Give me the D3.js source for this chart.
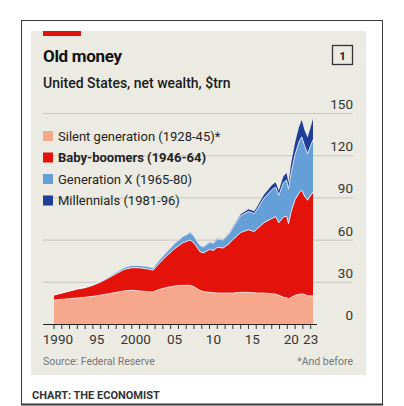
<!DOCTYPE html>
<html>
<head>
<meta charset="utf-8">
<script src="https://cdn.jsdelivr.net/npm/d3@7"></script>
<style>
  html, body { margin: 0; padding: 0; background: #fff; }
  svg { display: block; font-family: Roboto, "Noto Sans", sans-serif; }
</style>
</head>
<body>
<div id="chart"></div>
<script>
// Net wealth by generation, $trn
const years = [1990, 1991, 1992, 1993, 1994, 1995, 1996, 1997, 1998, 1999,
  2000, 2001, 2002, 2002.75, 2003.5, 2004.5, 2005.5, 2006.5, 2007.5, 2008,
  2008.75, 2009.2, 2010, 2010.5, 2011, 2011.75, 2012.5, 2013, 2014, 2015,
  2015.75, 2016, 2017, 2018, 2018.5, 2018.9, 2019.5, 2019.9, 2020.15, 2020.5,
  2021, 2021.5, 2021.85, 2022.2, 2022.6, 2022.9, 2023.3];
const silent = [17, 17.5, 18, 18.5, 19, 19.7, 20.5, 21.5, 22.5, 23.5,
  24, 23.5, 23, 22.8, 24.5, 26, 27, 27.5, 27.5, 26.5,
  24, 23, 22.5, 22.3, 22, 22, 22, 22, 22.5, 22.5,
  22.2, 22, 22, 21.5, 21.3, 20.5, 19, 18.8, 17.8, 19,
  20.5, 21, 21.5, 21, 20, 20, 20];
const boomers = [3.6, 4.5, 5.4, 6.3, 6.8, 7.8, 9.3, 11.2, 13.3, 15.3,
  16, 16.4, 16.2, 15.5, 18.5, 22.5, 26.5, 30, 32.2, 31,
  27.5, 27.5, 30.5, 30, 32.5, 32, 35, 38, 42.5, 44.5,
  43.5, 45, 50, 53.5, 55, 51.5, 57, 58, 53.5, 61,
  68, 72, 73.5, 70, 68, 70.5, 74];
const genX = [0, 0.1, 0.2, 0.3, 0.4, 0.5, 0.7, 0.9, 1.1, 1.4,
  1.7, 1.7, 1.8, 1.6, 2.2, 2.8, 3.6, 4.4, 5.2, 5,
  4.4, 4.2, 5, 5, 5.8, 5.8, 7, 8.5, 12, 13,
  12.8, 13.5, 17.5, 20.5, 21, 19.5, 24.5, 25.5, 24.5, 28,
  32, 36.5, 38, 36, 33, 35, 37];
const millennials = [0, 0, 0, 0, 0, 0, 0, 0, 0, 0,
  0, 0, 0, 0, 0.1, 0.1, 0.2, 0.2, 0.3, 0.3,
  0.2, 0.2, 0.3, 0.3, 0.4, 0.4, 0.5, 0.7, 1.1, 1.5,
  1.6, 1.8, 2.4, 3.1, 3.4, 3.3, 4.5, 5, 4.7, 6.5,
  8.5, 10.5, 12, 11, 11.5, 12.5, 15];

const seriesNames = ["Silent generation (1928-45)*", "Baby-boomers (1946-64)",
  "Generation X (1965-80)", "Millennials (1981-96)"];
const seriesKeys = ["silent", "boomers", "genX", "millennials"];
const colors = ["#f6a78c", "#e3120b", "#659fd8", "#1f3e9a"];
const yTicks = [0, 30, 60, 90, 120, 150];
const tickYears = d3.range(1990, 2024);
const labelYears = [1990, 1995, 2000, 2005, 2010, 2015, 2020, 2023];
const labelText = ["1990", "95", "2000", "05", "10", "15", "20", "23"];

const W = 404, H = 406;
const svg = d3.select("#chart").append("svg").attr("width", W).attr("height", H);

// outer frame and panel
svg.append("rect").attr("width", W).attr("height", H).attr("fill", "#fff");
svg.append("rect").attr("x", 21.5).attr("y", 20.5).attr("width", 361).attr("height", 384)
    .attr("fill", "none").attr("stroke", "#3a3a3a").attr("stroke-width", 1);
svg.append("line").attr("x1", 21).attr("x2", 383).attr("y1", 404.5).attr("y2", 404.5)
    .attr("stroke", "#3a3a3a").attr("stroke-width", 2);
svg.append("rect").attr("x", 31).attr("y", 31).attr("width", 335).attr("height", 344)
    .attr("fill", "#ecebe3");
svg.append("rect").attr("x", 43).attr("y", 31).attr("width", 38).attr("height", 5)
    .attr("fill", "#e3120b");

// titles
svg.append("text").attr("x", 43).attr("y", 62).text("Old money")
    .attr("font-size", 17).attr("font-weight", 700).attr("fill", "#121212")
    .attr("letter-spacing", -0.3);
svg.append("text").attr("x", 43).attr("y", 88).text("United States, net wealth, $trn")
    .attr("font-size", 14).attr("font-weight", 500).attr("fill", "#1a1a1a");
svg.append("rect").attr("x", 332.5).attr("y", 45.5).attr("width", 20).attr("height", 19)
    .attr("fill", "none").attr("stroke", "#333").attr("stroke-width", 1.3);
svg.append("text").attr("x", 342.5).attr("y", 59.5).text("1")
    .attr("text-anchor", "middle").attr("font-size", 11.5).attr("font-weight", 700).attr("fill", "#222");

// scales
const x = d3.scaleLinear().domain(d3.extent(years)).range([54, 313]);
const y = d3.scaleLinear().domain([0, 150]).range([324, 113]);

// gridlines + y labels
const grid = svg.append("g");
grid.selectAll("line").data(yTicks.filter(d => d > 0)).join("line")
    .attr("x1", 43).attr("x2", 353)
    .attr("y1", d => y(d) + 0.5).attr("y2", d => y(d) + 0.5)
    .attr("stroke", "#c9c8c0").attr("stroke-width", 1);
grid.selectAll("text").data(yTicks).join("text")
    .attr("x", 353).attr("y", d => y(d) - 4)
    .attr("text-anchor", "end").attr("font-size", 13.5).attr("fill", "#333")
    .text(d => d);

// stacked areas
const rows = years.map((yr, i) => ({
  year: yr, silent: silent[i], boomers: boomers[i], genX: genX[i], millennials: millennials[i]
}));
const stacked = d3.stack().keys(seriesKeys)(rows);
const area = d3.area()
    .x(d => x(d.data.year))
    .y0(d => y(d[0]))
    .y1(d => y(d[1]));
const topLine = d3.line()
    .x(d => x(d.data.year))
    .y(d => y(d[1]));

svg.append("g").selectAll("path").data(stacked).join("path")
    .attr("d", area).attr("fill", (d, i) => colors[i]);
svg.append("g").selectAll("path").data(stacked.slice(0, 3)).join("path")
    .attr("d", topLine).attr("fill", "none")
    .attr("stroke", "#fff").attr("stroke-width", 0.9).attr("stroke-opacity", 0.85);

// x axis
svg.append("line").attr("x1", 43).attr("x2", 317).attr("y1", 324.5).attr("y2", 324.5)
    .attr("stroke", "#222").attr("stroke-width", 1.2);
svg.append("g").selectAll("line").data(tickYears).join("line")
    .attr("x1", d => x(d)).attr("x2", d => x(d))
    .attr("y1", 324.5).attr("y2", 329)
    .attr("stroke", "#333").attr("stroke-width", 1);
svg.append("g").selectAll("text").data(labelYears).join("text")
    .attr("x", (d, i) => i === labelYears.length - 1 ? x(d) : x(d + 0.5))
    .attr("y", 344)
    .attr("text-anchor", "middle").attr("font-size", 13.5).attr("fill", "#333")
    .text((d, i) => labelText[i]);

// legend
const legend = svg.append("g").selectAll("g").data(seriesNames).join("g")
    .attr("transform", (d, i) => `translate(43,${131 + i * 21.5})`);
legend.append("rect").attr("width", 10).attr("height", 10).attr("fill", (d, i) => colors[i]);
legend.append("text").attr("x", 15).attr("y", 9.5)
    .attr("font-size", 13).attr("fill", "#222")
    .attr("font-weight", (d, i) => i === 1 ? 700 : 400)
    .text(d => d);

// footer
svg.append("text").attr("x", 43).attr("y", 365).text("Source: Federal Reserve")
    .attr("font-size", 10.5).attr("fill", "#777");
svg.append("text").attr("x", 353).attr("y", 365).text("*And before")
    .attr("text-anchor", "end").attr("font-size", 10.5).attr("fill", "#777");
svg.append("text").attr("x", 32).attr("y", 399).text("CHART: THE ECONOMIST")
    .attr("font-size", 11).attr("font-weight", 700).attr("fill", "#333");
</script>
</body>
</html>
